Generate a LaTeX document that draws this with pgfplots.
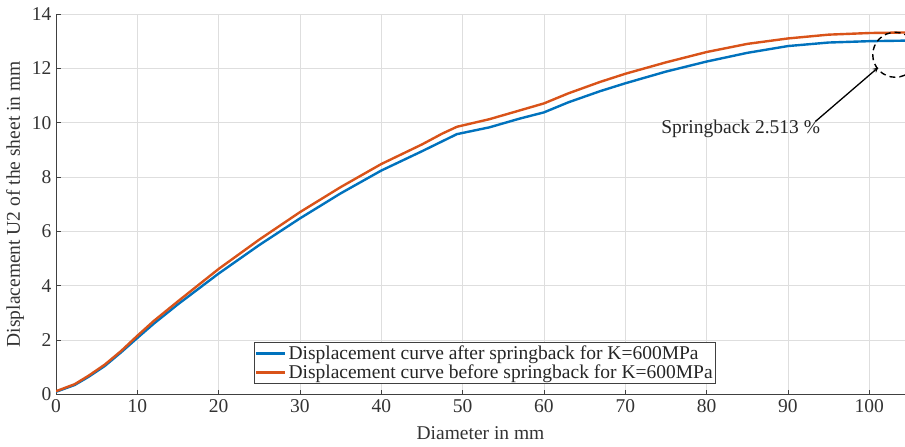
\documentclass[border=0pt]{standalone}
\usepackage{fontspec}
\setmainfont{Liberation Serif}
\usepackage{pgfplots}
\pgfplotsset{compat=1.18}
\definecolor{mblue}{rgb}{0,0.447,0.741}
\definecolor{morange}{rgb}{0.85,0.325,0.098}
\definecolor{mgrid}{rgb}{0.87,0.87,0.87}
\definecolor{maxis}{rgb}{0.25,0.25,0.25}
\newcommand\f{\fontsize{19.5bp}{23bp}\selectfont}
\begin{document}
\begin{tikzpicture}
\begin{axis}[
  scale only axis,
  width=849bp, height=380.5bp,
  xmin=0, xmax=104.4, ymin=0, ymax=14,
  xtick={0,10,...,100}, ytick={0,2,...,14},
  axis x line*=bottom, axis y line*=left,
  axis line style={draw=maxis, line width=0.8bp},
  tick align=inside, major tick length=5bp,
  tick style={draw=maxis, line width=0.6bp},
  grid=major, major grid style={draw=mgrid, line width=0.6bp},
  /pgf/number format/assume math mode=true,
  tick label style={font=\f, text=black!80},
  xticklabel style={yshift=-2bp},
  yticklabel style={xshift=-1bp},
  xlabel={Diameter in mm}, ylabel={Displacement U2 of the sheet in mm},
  every axis x label/.style={at={(axis description cs:0.5,0)}, anchor=center, yshift=-39bp, font=\f, text=black!80},
  every axis y label/.style={at={(axis description cs:-0.0483,0.5)}, anchor=center, rotate=90, font=\f, text=black!80},
  legend style={at={(axis description cs:0.2330,0.0276)}, anchor=south west,
    font=\f, draw=maxis, line width=0.6bp, fill=white, inner xsep=1bp, inner ysep=1.5bp,
    row sep=0bp, text=black!85},
  legend cell align=left,
  legend image code/.code={\draw[#1, line width=2.4bp] (0bp,0bp) -- (29bp,0bp);},
]
\addplot[mblue, line width=2.4bp] coordinates {
(0,0.10) (2.3,0.35) (4,0.65) (6,1.05) (8,1.55) (10,2.08) (12,2.6) (15,3.32) (20,4.45)
(25,5.5) (30,6.48) (35,7.4) (40,8.24) (45,8.95) (49.3,9.58) (53.3,9.83) (57,10.15)
(60,10.38) (63,10.75) (66.9,11.16) (70,11.45) (75,11.88) (80,12.25) (85,12.57)
(90,12.82) (95,12.95) (100,13.0) (104.4,13.02)};
\addlegendentry{Displacement curve after springback for K=600MPa}
\addplot[morange, line width=2.4bp] coordinates {
(0,0.12) (2.3,0.38) (4,0.69) (6,1.1) (8,1.6) (10,2.16) (12,2.7) (15,3.43) (20,4.62)
(25,5.7) (30,6.71) (35,7.63) (40,8.48) (45,9.2) (47.5,9.6) (49.3,9.85) (53.3,10.13)
(57,10.45) (60,10.71) (63,11.08) (66.9,11.5) (70,11.8) (75,12.22) (80,12.6) (85,12.9)
(90,13.1) (95,13.24) (100,13.3) (104.4,13.32)};
\addlegendentry{Displacement curve before springback for K=600MPa}
\node[font=\f, text=black!85] at (axis cs:84.2,9.78) {Springback 2.513 \%};
\draw[-stealth, line width=1.3bp] (axis cs:93.4,10.05) -- (axis cs:101.1,12.03);
\draw[dashed, dash pattern=on 6bp off 4bp, line width=1.4bp] (axis cs:103.2,12.5) circle [radius=22.5bp];
\end{axis}
\pgfresetboundingbox
\useasboundingbox ([xshift=-56bp,yshift=-52.5bp]current axis.south west) rectangle ([yshift=14bp]current axis.north east);
\end{tikzpicture}
\end{document}
